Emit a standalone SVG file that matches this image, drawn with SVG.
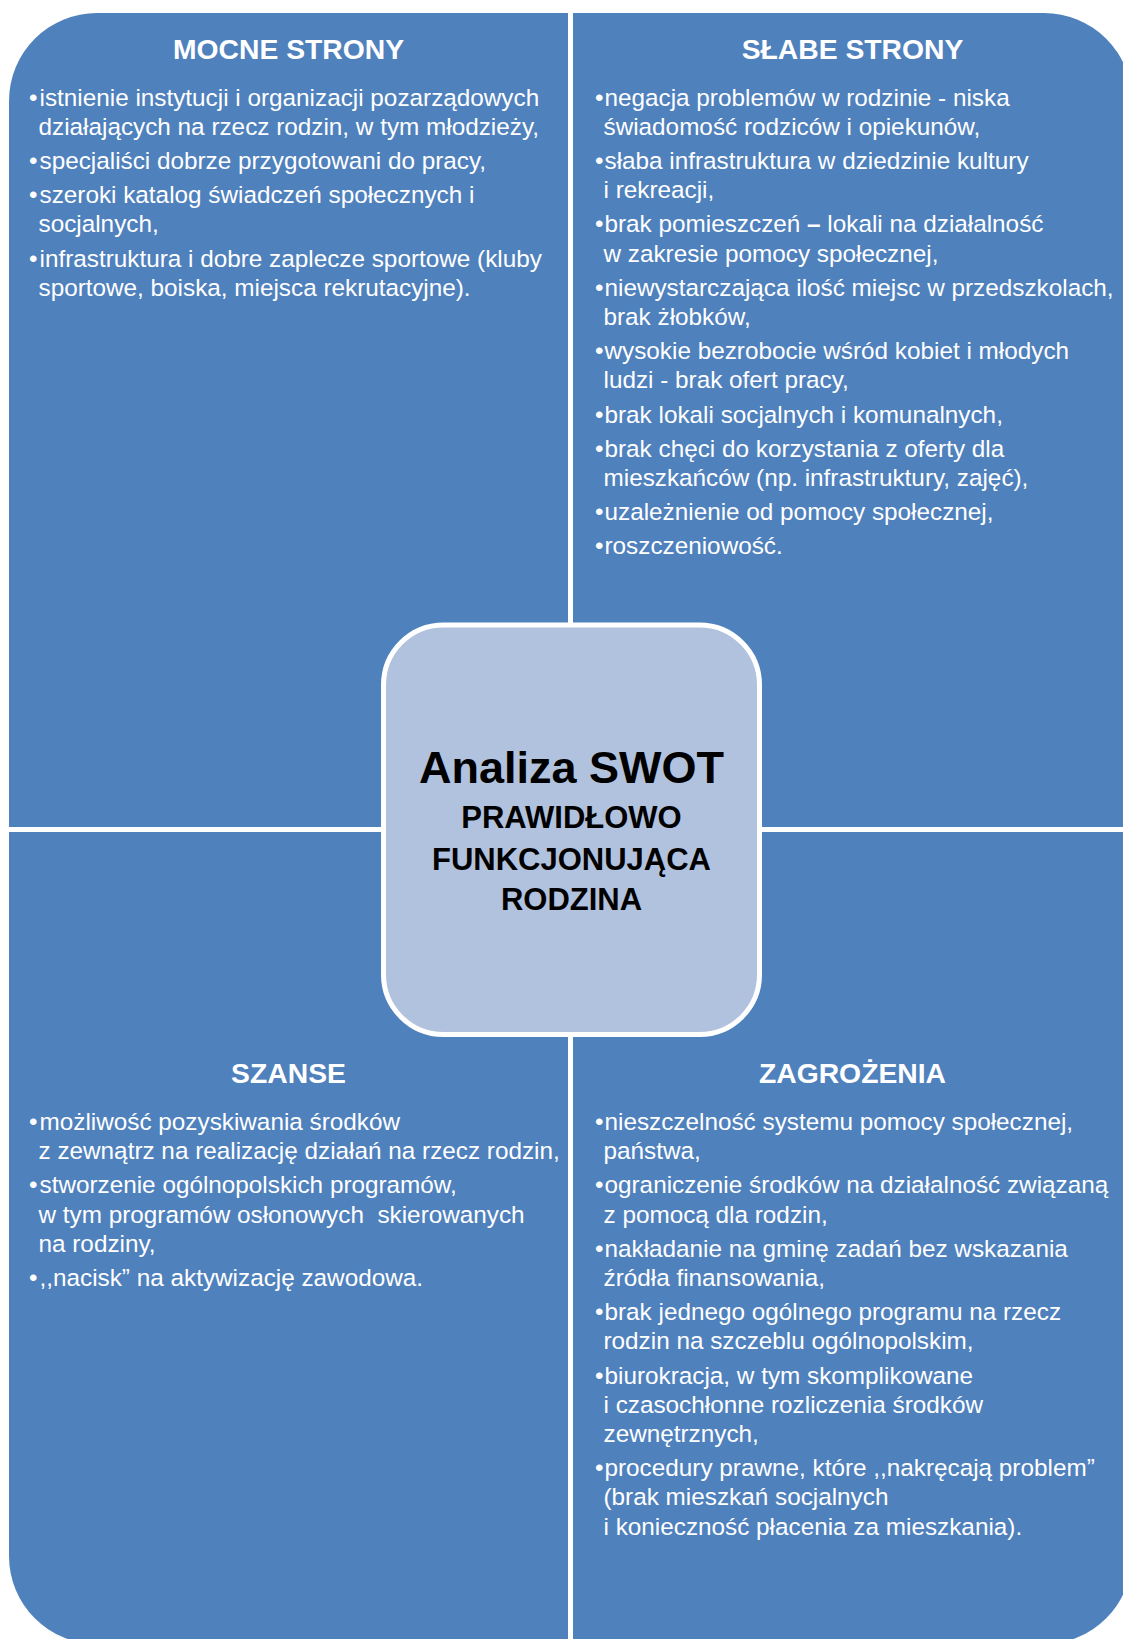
<svg xmlns="http://www.w3.org/2000/svg" width="1123" height="1639" viewBox="0 0 1123 1639">
<style>
.q{fill:#4F81BD}
.h{font-family:"Liberation Sans",Arial,sans-serif;font-weight:bold;font-size:28.3px;fill:#fff;text-anchor:middle}
.b{font-family:"Liberation Sans",Arial,sans-serif;font-size:24.3px;fill:#fff;white-space:pre}
.c1{font-family:"Liberation Sans",Arial,sans-serif;font-weight:bold;font-size:45px;fill:#000;text-anchor:middle}
.c2{font-family:"Liberation Sans",Arial,sans-serif;font-weight:bold;font-size:31px;fill:#000;text-anchor:middle}
</style>
<rect width="1123" height="1639" fill="#fff"/>
<g id="node-strengths">
<path class="q" d="M9,101 A88,88 0 0 1 97,13 L568,13 L568,827 L9,827 Z"/>
<text class="h" x="288.5" y="59">MOCNE STRONY</text>
<text class="b"><tspan x="29" y="105.5">•</tspan><tspan x="39.5" y="105.5">istnienie instytucji i organizacji pozarządowych</tspan><tspan x="38.5" y="134.7">działających na rzecz rodzin, w tym młodzieży,</tspan><tspan x="29" y="168.9">•</tspan><tspan x="39.5" y="168.9">specjaliści dobrze przygotowani do pracy,</tspan><tspan x="29" y="203.1">•</tspan><tspan x="39.5" y="203.1">szeroki katalog świadczeń społecznych i</tspan><tspan x="38.5" y="232.3">socjalnych,</tspan><tspan x="29" y="266.5">•</tspan><tspan x="39.5" y="266.5">infrastruktura i dobre zaplecze sportowe (kluby</tspan><tspan x="38.5" y="295.7">sportowe, boiska, miejsca rekrutacyjne).</tspan></text>
</g>
<g id="node-weaknesses">
<path class="q" d="M573,13 L1044,13 A88,88 0 0 1 1132,101 L1132,827 L573,827 Z"/>
<text class="h" x="852.5" y="59">SŁABE STRONY</text>
<text class="b"><tspan x="595" y="105.5">•</tspan><tspan x="604.5" y="105.5">negacja problemów w rodzinie - niska</tspan><tspan x="603.5" y="134.7">świadomość rodziców i opiekunów,</tspan><tspan x="595" y="168.9">•</tspan><tspan x="604.5" y="168.9">słaba infrastruktura w dziedzinie kultury</tspan><tspan x="603.5" y="198.1">i rekreacji,</tspan><tspan x="595" y="232.3">•</tspan><tspan x="604.5" y="232.3">brak pomieszczeń <tspan font-weight="bold">–</tspan> lokali na działalność</tspan><tspan x="603.5" y="261.5">w zakresie pomocy społecznej,</tspan><tspan x="595" y="295.7">•</tspan><tspan x="604.5" y="295.7">niewystarczająca ilość miejsc w przedszkolach,</tspan><tspan x="603.5" y="324.9">brak żłobków,</tspan><tspan x="595" y="359.1">•</tspan><tspan x="604.5" y="359.1">wysokie bezrobocie wśród kobiet i młodych</tspan><tspan x="603.5" y="388.3">ludzi - brak ofert pracy,</tspan><tspan x="595" y="422.5">•</tspan><tspan x="604.5" y="422.5">brak lokali socjalnych i komunalnych,</tspan><tspan x="595" y="456.7">•</tspan><tspan x="604.5" y="456.7">brak chęci do korzystania z oferty dla</tspan><tspan x="603.5" y="485.9">mieszkańców (np. infrastruktury, zajęć),</tspan><tspan x="595" y="520.1">•</tspan><tspan x="604.5" y="520.1">uzależnienie od pomocy społecznej,</tspan><tspan x="595" y="554.3">•</tspan><tspan x="604.5" y="554.3">roszczeniowość.</tspan></text>
</g>
<g id="node-opportunities">
<path class="q" d="M9,832 L568,832 L568,1644 L97,1644 A88,88 0 0 1 9,1556 Z"/>
<text class="h" x="288.5" y="1083">SZANSE</text>
<text class="b"><tspan x="29" y="1130">•</tspan><tspan x="39.5" y="1130">możliwość pozyskiwania środków</tspan><tspan x="38.5" y="1159.2">z zewnątrz na realizację działań na rzecz rodzin,</tspan><tspan x="29" y="1193.4">•</tspan><tspan x="39.5" y="1193.4">stworzenie ogólnopolskich programów,</tspan><tspan x="38.5" y="1222.6">w tym programów osłonowych  skierowanych</tspan><tspan x="38.5" y="1251.8">na rodziny,</tspan><tspan x="29" y="1286">•</tspan><tspan x="39.5" y="1286">,,nacisk” na aktywizację zawodowa.</tspan></text>
</g>
<g id="node-threats">
<path class="q" d="M573,832 L1132,832 L1132,1556 A88,88 0 0 1 1044,1644 L573,1644 Z"/>
<text class="h" x="852.5" y="1083">ZAGROŻENIA</text>
<text class="b"><tspan x="595" y="1130">•</tspan><tspan x="604.5" y="1130">nieszczelność systemu pomocy społecznej,</tspan><tspan x="603.5" y="1159.2">państwa,</tspan><tspan x="595" y="1193.4">•</tspan><tspan x="604.5" y="1193.4">ograniczenie środków na działalność związaną</tspan><tspan x="603.5" y="1222.6">z pomocą dla rodzin,</tspan><tspan x="595" y="1256.8">•</tspan><tspan x="604.5" y="1256.8">nakładanie na gminę zadań bez wskazania</tspan><tspan x="603.5" y="1286">źródła finansowania,</tspan><tspan x="595" y="1320.2">•</tspan><tspan x="604.5" y="1320.2">brak jednego ogólnego programu na rzecz</tspan><tspan x="603.5" y="1349.4">rodzin na szczeblu ogólnopolskim,</tspan><tspan x="595" y="1383.6">•</tspan><tspan x="604.5" y="1383.6">biurokracja, w tym skomplikowane</tspan><tspan x="603.5" y="1412.8">i czasochłonne rozliczenia środków</tspan><tspan x="603.5" y="1442">zewnętrznych,</tspan><tspan x="595" y="1476.2">•</tspan><tspan x="604.5" y="1476.2">procedury prawne, które ,,nakręcają problem”</tspan><tspan x="603.5" y="1505.4">(brak mieszkań socjalnych</tspan><tspan x="603.5" y="1534.6">i konieczność płacenia za mieszkania).</tspan></text>
</g>
<g id="connectors"/>
<g id="node-center">
<rect x="383.5" y="625" width="376" height="409.5" rx="60" ry="60" fill="#B1C2DE" stroke="#fff" stroke-width="5"/>
<text class="c1" x="571.5" y="783">Analiza SWOT</text>
<text class="c2" x="571.5" y="828">PRAWIDŁOWO</text>
<text class="c2" x="571.5" y="869.5">FUNKCJONUJĄCA</text>
<text class="c2" x="571.5" y="910">RODZINA</text>
</g>
</svg>
